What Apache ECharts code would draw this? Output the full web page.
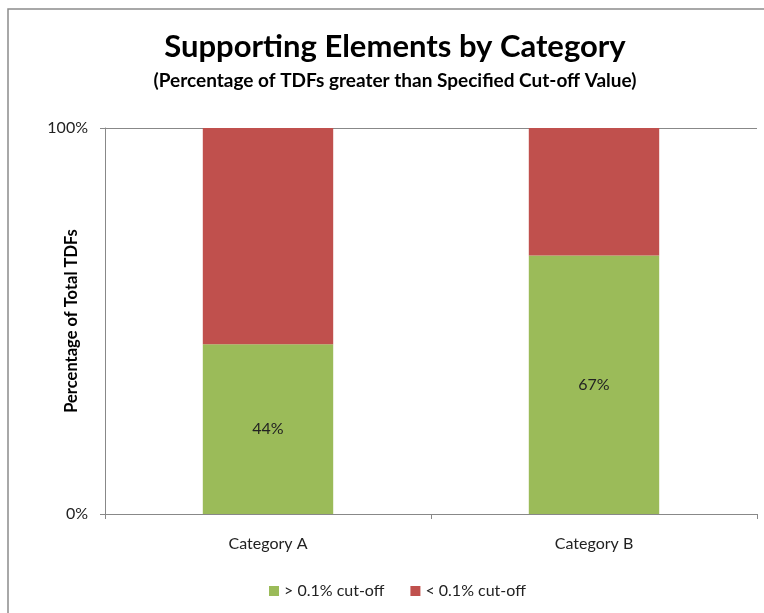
<!DOCTYPE html>
<html>
<head>
<meta charset="utf-8">
<script src="https://cdn.jsdelivr.net/npm/echarts@6/dist/echarts.min.js"></script>
<style>
  html, body { margin: 0; padding: 0; background: #fff; }
  #chart { width: 764px; height: 613px; }
</style>
</head>
<body>
<div id="chart"></div>
<script>
// chart data
var categories = ['Category A', 'Category B'];
var aboveCutoff = [44, 67];   // > 0.1% cut-off (green)
var belowCutoff = [56, 33];   // < 0.1% cut-off (red)
var seriesNames = ['> 0.1% cut-off', '< 0.1% cut-off'];

var fontFam = 'Lato, "Open Sans", sans-serif';
var chart = echarts.init(document.getElementById('chart'));

chart.setOption({
    animation: false,
    textStyle: { fontFamily: fontFam },
    title: {
        text: 'Supporting Elements by Category',
        subtext: '(Percentage of TDFs greater than Specified Cut-off Value)',
        left: 390,
        textAlign: 'center',
        top: 26,
        itemGap: 9,
        textStyle: { fontSize: 31, fontWeight: 'bold', color: '#000', fontFamily: fontFam },
        subtextStyle: { fontSize: 19, fontWeight: 'bold', color: '#000', fontFamily: fontFam }
    },
    legend: {
        data: seriesNames,
        bottom: 9,
        left: 264,
        itemWidth: 10,
        itemHeight: 10,
        itemGap: 26,
        icon: 'rect',
        textStyle: { fontSize: 16, color: '#222', fontFamily: fontFam }
    },
    grid: { left: 105, right: 7, top: 128, bottom: 99 },
    xAxis: {
        type: 'category',
        data: categories,
        axisLine: { lineStyle: { color: '#888', width: 1 } },
        axisTick: { show: true, length: 5, lineStyle: { color: '#888' } },
        axisLabel: { fontSize: 16, color: '#222', margin: 22 }
    },
    yAxis: {
        type: 'value',
        min: 0, max: 100, interval: 100,
        name: 'Percentage of Total TDFs',
        nameLocation: 'middle',
        nameGap: 25,
        nameMoveOverlap: false,
        nameRotate: 90,
        nameTextStyle: { fontSize: 16.5, fontWeight: 'bold', color: '#000' },
        axisLine: { show: true, lineStyle: { color: '#888' } },
        axisTick: { show: true, length: 5, lineStyle: { color: '#888' } },
        splitLine: { show: true, lineStyle: { color: '#888' } },
        axisLabel: { fontSize: 16, color: '#222', margin: 17, formatter: '{value}%' }
    },
    series: [
        {
            name: seriesNames[0], type: 'bar', stack: 'total',
            data: aboveCutoff, barWidth: '40%',
            itemStyle: { color: '#9BBB59' },
            label: { show: true, position: 'inside', formatter: '{c}%', fontSize: 16, color: '#222' }
        },
        {
            name: seriesNames[1], type: 'bar', stack: 'total',
            data: belowCutoff, barWidth: '40%',
            itemStyle: { color: '#C0504D' }
        }
    ],
    graphic: [{
        type: 'rect', silent: true, z: -1,
        shape: { x: 8, y: 9, width: 800, height: 700 },
        style: { fill: 'none', stroke: '#8c8c8c', lineWidth: 1.5 }
    }]
});
</script>
</body>
</html>
